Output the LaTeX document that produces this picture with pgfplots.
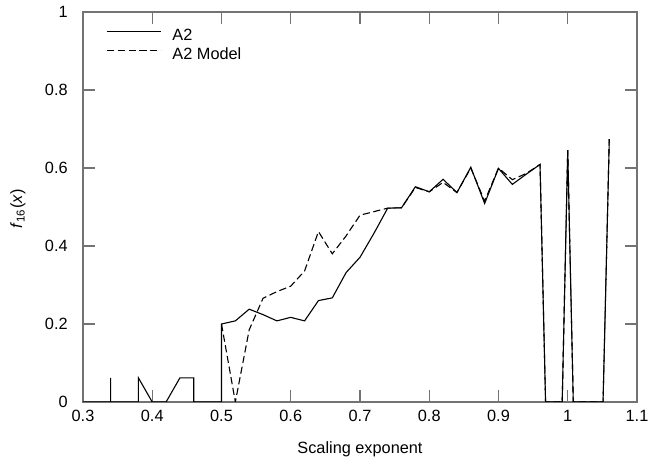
\documentclass[border=0pt]{standalone}
\usepackage{fontspec}
\setmainfont{Liberation Sans}
\usepackage{pgfplots}
\pgfplotsset{compat=1.18}
\newcommand{\fs}{\fontsize{8.15pt}{9.8pt}\selectfont}
\begin{document}
\begin{tikzpicture}
\path[use as bounding box] (-41.5pt,-28.5pt) rectangle (287.5pt,201pt);
\begin{axis}[
  at={(0,0)}, anchor=south west,
  scale only axis, width=277pt, height=195pt,
  xmin=0.3, xmax=1.1, ymin=0, ymax=1,
  xtick={0.3,0.4,0.5,0.6,0.7,0.8,0.9,1.0,1.1},
  xticklabels={0.3,0.4,0.5,0.6,0.7,0.8,0.9,1,1.1},
  ytick={0,0.2,0.4,0.6,0.8,1},
  yticklabels={0,0.2,0.4,0.6,0.8,1},
  tick align=inside,
  major tick length=5.8pt,
  axis line style={draw=black!55, line width=0.6pt},
  every tick/.style={draw=black!55, line width=0.6pt},
  tick label style={font=\fs, text=black},
  xticklabel style={inner sep=0pt, yshift=-4pt},
  yticklabel style={inner sep=0pt, xshift=-7.5pt},
  xlabel={Scaling exponent},
  label style={font=\fs},
  xlabel style={at={(axis description cs:0.5,0)}, anchor=center, yshift=-23.5pt},
  legend style={at={(0,1)}, anchor=north west, xshift=11.5pt, yshift=-8.2pt,
    draw=none, fill=none, inner sep=0pt, row sep=2pt, column sep=5.5pt,
    font=\fs, nodes={inner sep=0pt, text height=6pt, text depth=1.5pt}},
  legend cell align=left,
  legend image code/.code={\draw[#1] (0pt,2.25pt) -- (27pt,2.25pt);},
]
\addplot[black, line width=0.55pt] coordinates {
(0.30,0)(0.34,0)(0.34,0.062)(0.34,0)(0.38,0)(0.38,0.062)(0.40,0)(0.42,0)
(0.44,0.062)(0.46,0.062)(0.46,0)(0.50,0)(0.50,0.20)(0.52,0.208)(0.54,0.238)
(0.56,0.224)(0.58,0.208)(0.60,0.217)(0.62,0.208)(0.64,0.26)(0.66,0.267)
(0.68,0.332)(0.70,0.371)(0.72,0.432)(0.74,0.497)(0.76,0.498)(0.78,0.552)
(0.80,0.539)(0.82,0.571)(0.84,0.537)(0.86,0.602)(0.88,0.509)(0.90,0.599)
(0.92,0.558)(0.94,0.584)(0.96,0.609)(0.968,0)(0.992,0)(1.0,0.646)(1.008,0)
(1.051,0)(1.06,0.674)
};
\addlegendentry{A2}
\addplot[black, line width=0.55pt, dash pattern=on 3.6pt off 1.8pt] coordinates {
(0.50,0.20)(0.52,0)(0.54,0.185)(0.56,0.266)(0.58,0.283)(0.60,0.297)
(0.62,0.336)(0.64,0.437)(0.66,0.38)(0.68,0.426)(0.70,0.479)(0.72,0.488)
(0.74,0.497)(0.76,0.498)(0.78,0.55)(0.80,0.539)(0.82,0.563)(0.84,0.537)
(0.86,0.60)(0.88,0.515)(0.90,0.60)(0.92,0.57)(0.94,0.586)(0.96,0.609)
(0.968,0)(0.992,0)(1.0,0.646)(1.008,0)(1.051,0)(1.06,0.674)
};
\addlegendentry{A2 Model}
\end{axis}
\node[rotate=90, font=\fs, inner sep=0pt, anchor=center] at (-32.5pt,96.5pt)
  {\textit{f}$_{\mathrm{16}}$(\textit{x})};
\end{tikzpicture}
\end{document}
